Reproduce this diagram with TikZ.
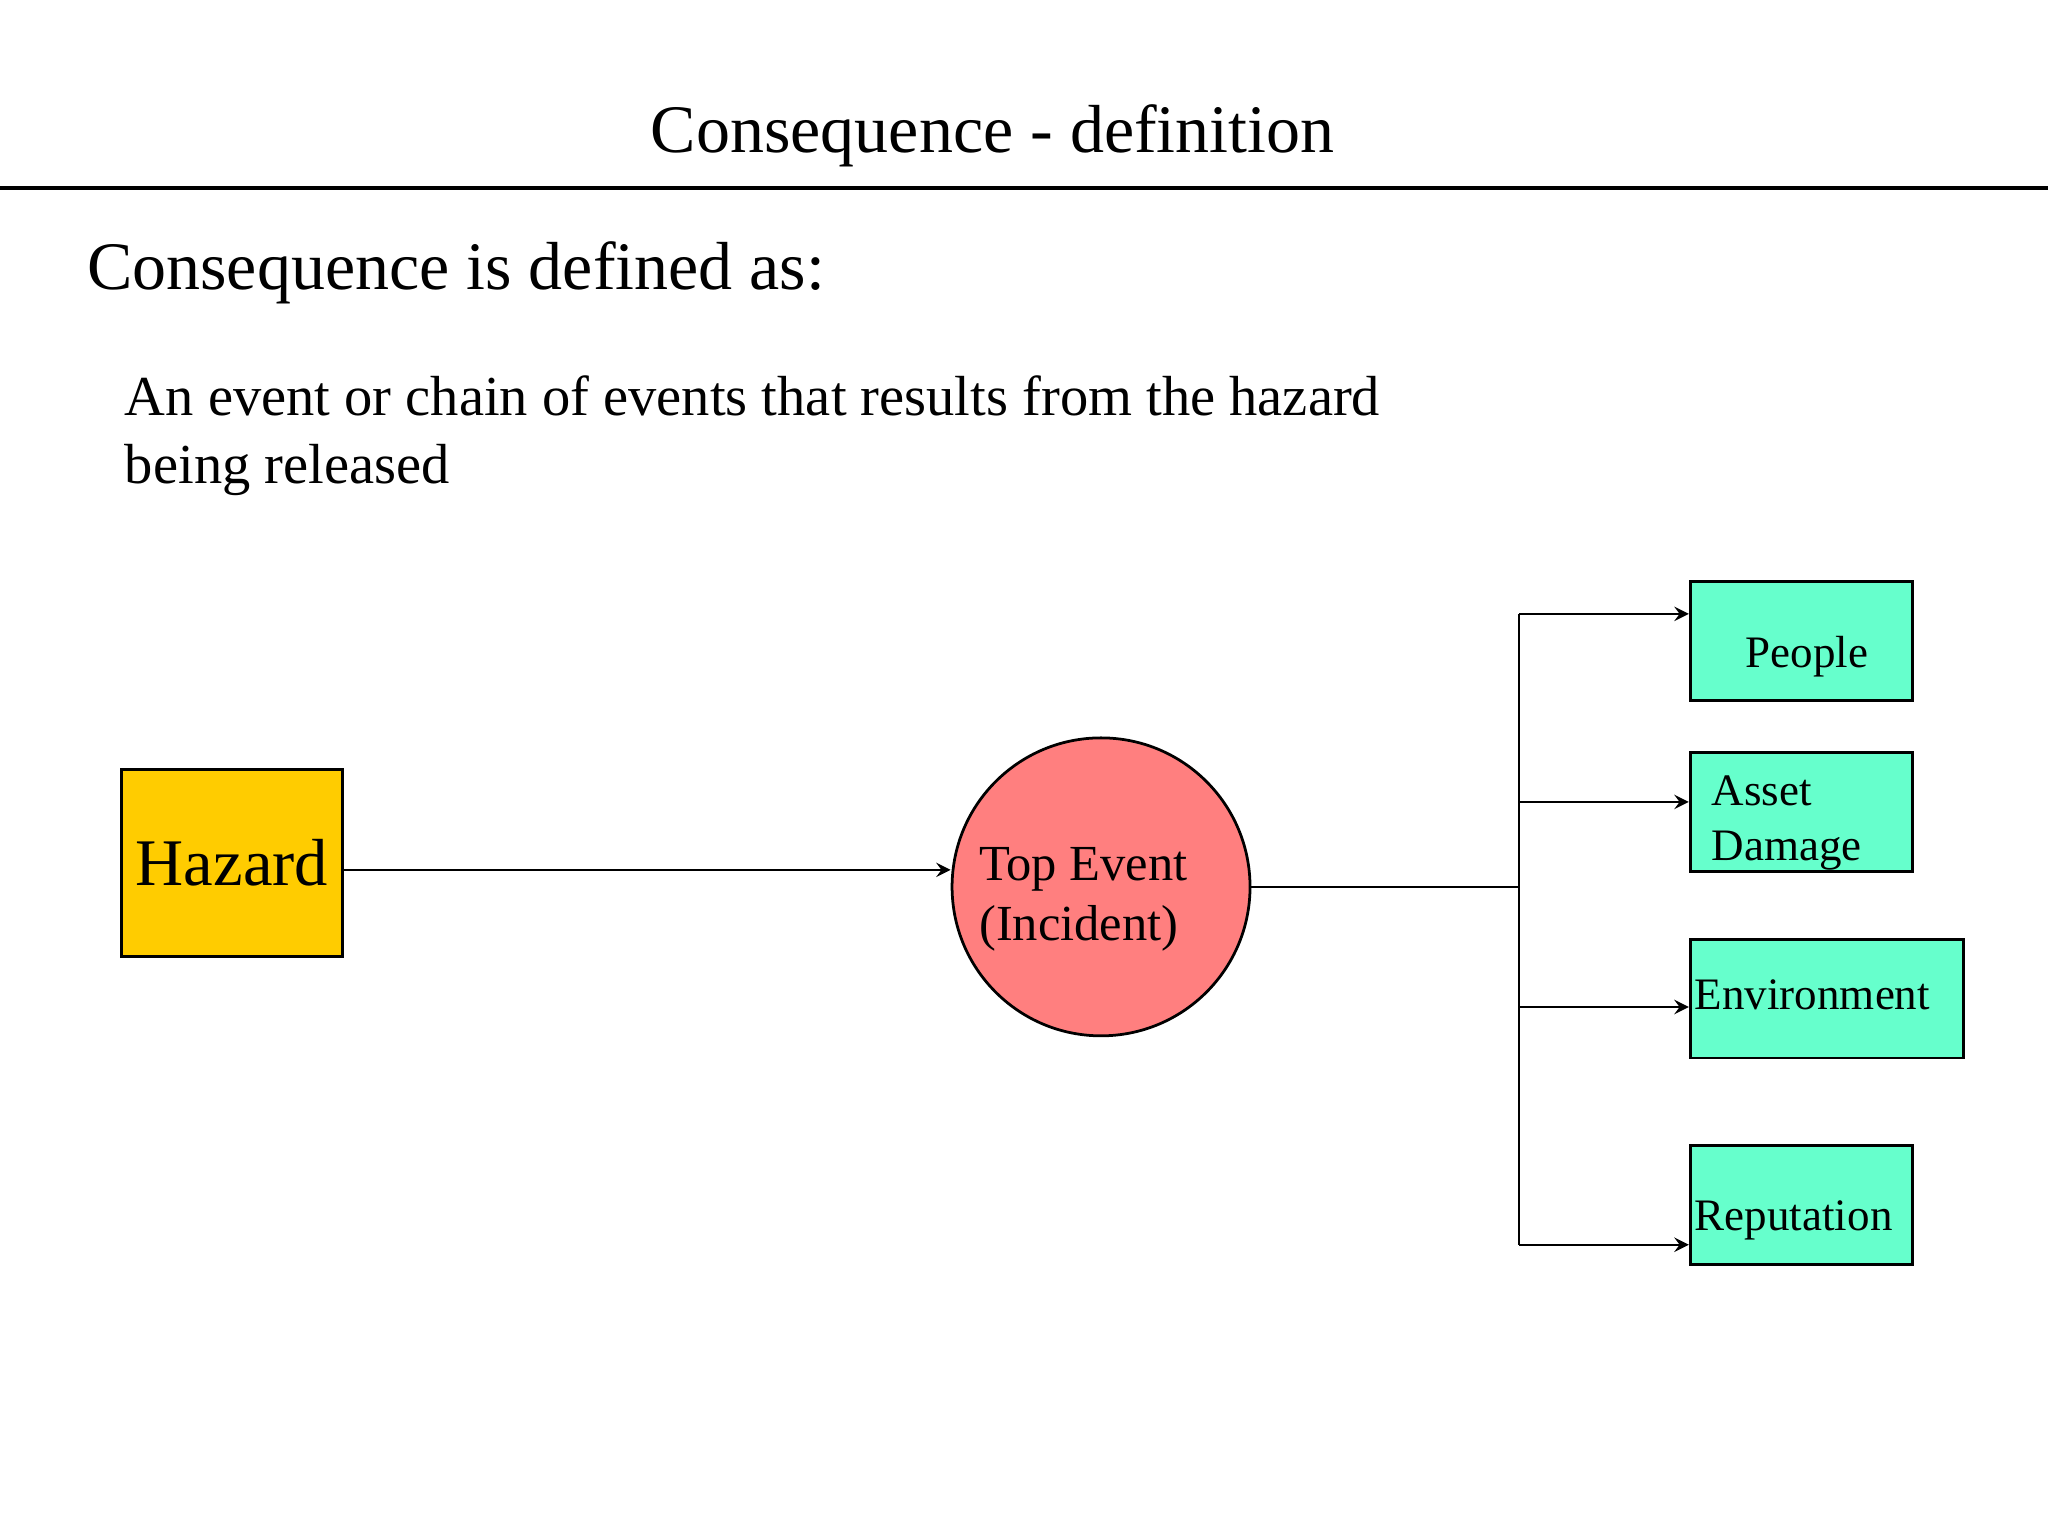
\documentclass[tikz,border=0pt]{standalone}
\usepackage{fontspec}
\setmainfont{Liberation Serif}
\begin{document}
\begin{tikzpicture}[x=0.01cm,y=-0.01cm,
  box/.style={draw,line width=0.6pt,inner sep=0pt,anchor=north west},
  cons/.style={box,fill=cn,minimum height=0.91cm},
  arr/.style={-stealth,line width=0.4pt},
  lbl/.style={font=\fontsize{9.8pt}{12pt}\selectfont,anchor=base west,inner sep=0}]
\definecolor{haz}{HTML}{FFCC00}\definecolor{top}{HTML}{FF7F7F}\definecolor{cn}{HTML}{66FFCC}
\useasboundingbox (0,0) rectangle (1568,1176);
\node[font=\fontsize{14.8pt}{17pt}\selectfont] (title) at (760,104) {Consequence - definition};
\draw[line width=0.9pt] (0,144) -- (1568,144);
\node[font=\fontsize{14.8pt}{17pt}\selectfont,anchor=base west,inner sep=0] (def) at (66,222) {Consequence is defined as:};
\node[font=\fontsize{12.3pt}{14.8pt}\selectfont,anchor=base west,inner sep=0,align=left] (txt) at (95,370) {An event or chain of events that results from the hazard\\being released};
\node[box,fill=haz,minimum width=1.69cm,minimum height=1.43cm,font=\fontsize{14.5pt}{16pt}\selectfont] (hz) at (92,588) {Hazard};
\node[draw,line width=0.6pt,circle,fill=top,minimum size=2.28cm,inner sep=0] (te) at (843,679) {};
\node[font=\fontsize{11pt}{13pt}\selectfont,align=left,anchor=base west,inner sep=0] (tel) at (749,720) {Top Event\\(Incident)};
\coordinate (h1) at (261,666);
\draw[arr] (h1) -- (te.west |- h1);
\coordinate (j) at (1163,679);
\coordinate (jt) at (1163,470);
\coordinate (jb) at (1163,953);
\draw[line width=0.5pt] (te.east) -- (j);
\draw[line width=0.5pt] (jt) -- (jb);
\node[cons,minimum width=1.70cm] (p) at (1293,444) {};
\node[cons,minimum width=1.70cm] (a) at (1293,575) {};
\node[cons,minimum width=2.09cm] (e) at (1293,718) {};
\node[cons,minimum width=1.70cm] (r) at (1293,876) {};
\node[lbl] (pl) at (1336,511) {People};
\node[lbl,align=left] (al) at (1310,659) {Asset\\Damage};
\node[lbl] (el) at (1297,773) {Environment};
\node[lbl] (rl) at (1297,942) {Reputation};
\coordinate (c2) at (1163,614);\coordinate (c3) at (1163,771);
\draw[arr] (jt) -- (p.west |- jt);
\draw[arr] (c2) -- (a.west |- c2);
\draw[arr] (c3) -- (e.west |- c3);
\draw[arr] (jb) -- (r.west |- jb);
\end{tikzpicture}
\end{document}
